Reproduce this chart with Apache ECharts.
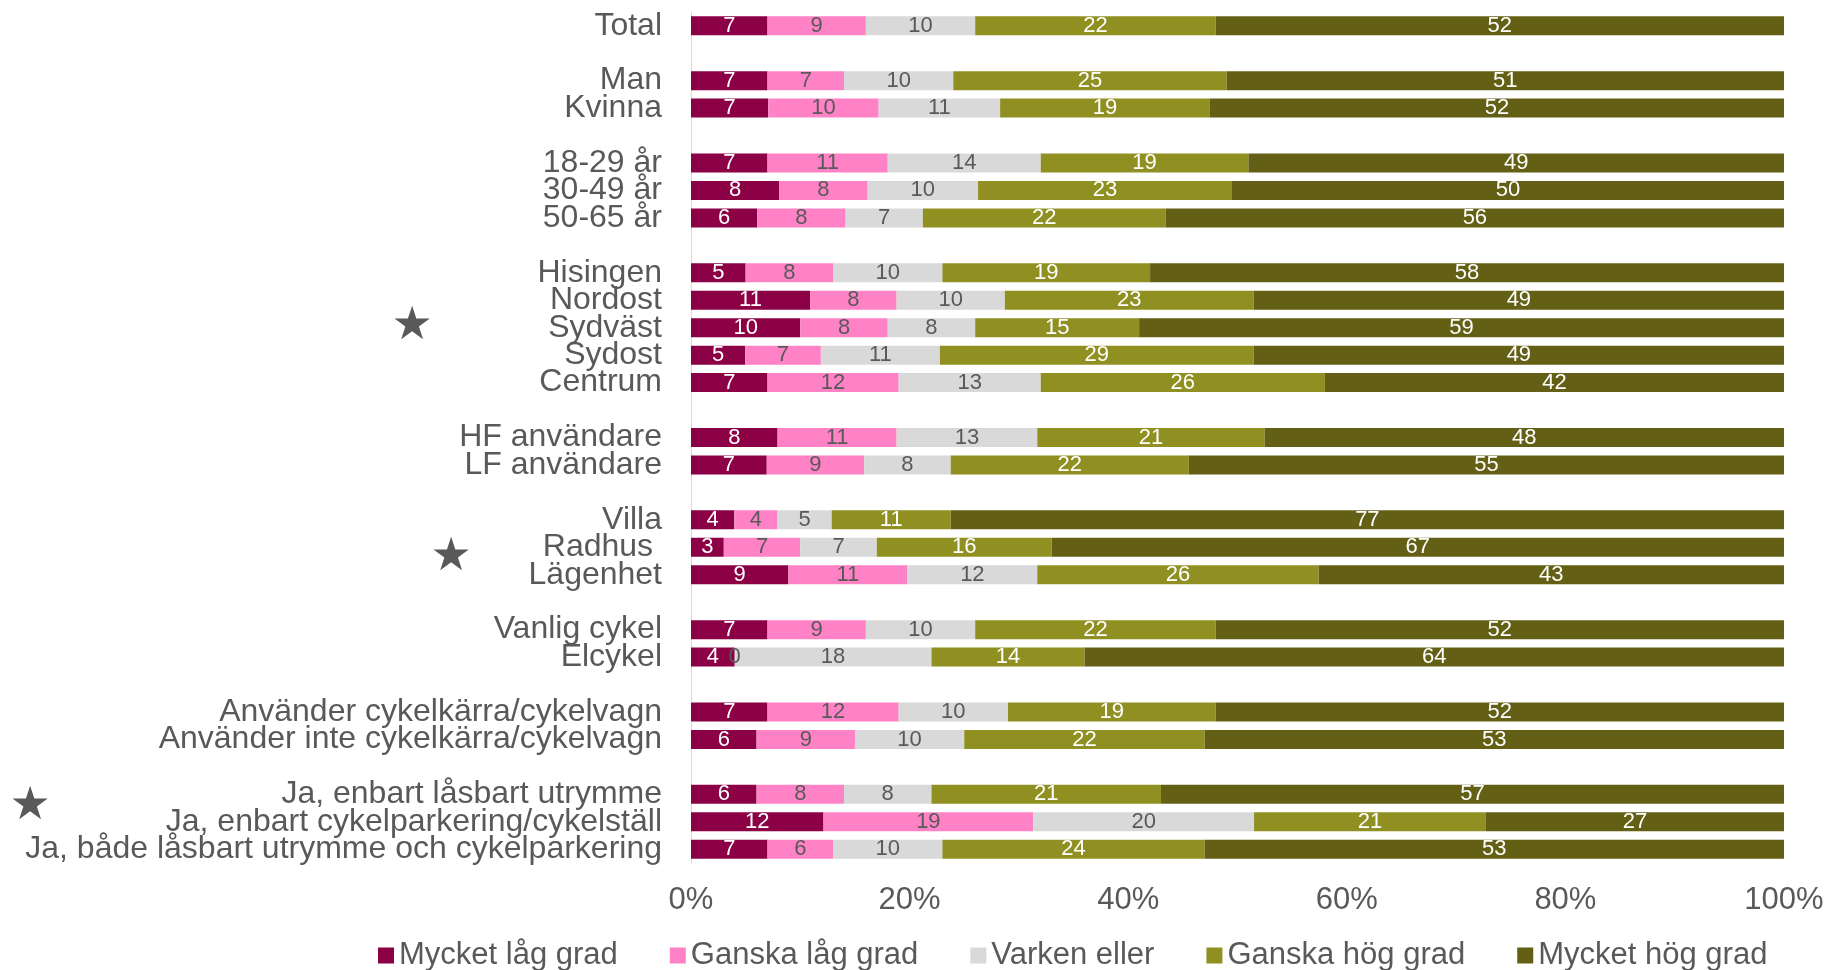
<!DOCTYPE html>
<html>
<head>
<meta charset="utf-8">
<script src="https://cdn.jsdelivr.net/npm/echarts@6/dist/echarts.min.js"></script>
<style>
  html, body { margin: 0; padding: 0; background: #fff; }
  #chart { width: 1828px; height: 970px; }
</style>
</head>
<body>
<div id="chart"></div>
<script>
// kategorier, tomma rader ('') skiljer grupperna åt
var categories = [
  'Total', '',
  'Man', 'Kvinna', '',
  '18-29 år', '30-49 år', '50-65 år', '',
  'Hisingen', 'Nordost', 'Sydväst', 'Sydost', 'Centrum', '',
  'HF användare', 'LF användare', '',
  'Villa', 'Radhus ', 'Lägenhet', '',
  'Vanlig cykel', 'Elcykel', '',
  'Använder cykelkärra/cykelvagn', 'Använder inte cykelkärra/cykelvagn', '',
  'Ja, enbart låsbart utrymme', 'Ja, enbart cykelparkering/cykelställ', 'Ja, både låsbart utrymme och cykelparkering'
];

var seriesNames = ['Mycket låg grad', 'Ganska låg grad', 'Varken eller', 'Ganska hög grad', 'Mycket hög grad'];
var seriesColors = ['#8C0046', '#FF82C6', '#D9D9D9', '#909022', '#636015'];
var labelColors = ['#FFFFFF', '#595959', '#595959', '#FFFFFF', '#FFFFFF'];

var mycketLag = [7, null, 7, 7, null, 7, 8, 6, null, 5, 11, 10, 5, 7, null, 8, 7, null, 4, 3, 9, null, 7, 4, null, 7, 6, null, 6, 12, 7];
var ganskaLag = [9, null, 7, 10, null, 11, 8, 8, null, 8, 8, 8, 7, 12, null, 11, 9, null, 4, 7, 11, null, 9, 0, null, 12, 9, null, 8, 19, 6];
var varkenEller = [10, null, 10, 11, null, 14, 10, 7, null, 10, 10, 8, 11, 13, null, 13, 8, null, 5, 7, 12, null, 10, 18, null, 10, 10, null, 8, 20, 10];
var ganskaHog = [22, null, 25, 19, null, 19, 23, 22, null, 19, 23, 15, 29, 26, null, 21, 22, null, 11, 16, 26, null, 22, 14, null, 19, 22, null, 21, 21, 24];
var mycketHog = [52, null, 51, 52, null, 49, 50, 56, null, 58, 49, 59, 49, 42, null, 48, 55, null, 77, 67, 43, null, 52, 64, null, 52, 53, null, 57, 27, 53];

var xTicks = [0, 20, 40, 60, 80, 100];

var allValues = [mycketLag, ganskaLag, varkenEller, ganskaHog, mycketHog];

// radsummor för 100 % staplar
var rowSums = categories.map(function (c, i) {
  var s = 0;
  allValues.forEach(function (arr) { if (arr[i] != null) s += arr[i]; });
  return s;
});

var FONT = '"Liberation Sans", Arial, sans-serif';
var TEXT = '#595959';

var series = allValues.map(function (arr, k) {
  return {
    name: seriesNames[k],
    type: 'bar',
    stack: 'total',
    barWidth: 19,
    itemStyle: { color: seriesColors[k] },
    label: {
      show: true,
      position: 'inside',
      color: labelColors[k],
      fontFamily: FONT,
      fontSize: 22,
      formatter: function (p) { return arr[p.dataIndex]; }
    },
    emphasis: { disabled: true },
    data: arr.map(function (v, i) {
      return v == null ? '-' : v / rowSums[i] * 100;
    })
  };
});

function star(x, y) {
  return {
    type: 'text', x: x, y: y,
    style: { text: '★', fill: TEXT, fontSize: 46, fontFamily: 'DejaVu Sans', align: 'center', verticalAlign: 'middle' }
  };
}

var chart = echarts.init(document.getElementById('chart'));
chart.setOption({
  animation: false,
  textStyle: { fontFamily: FONT },
  grid: { left: 691, right: 44, top: 12, bottom: 107 },
  legend: {
    data: seriesNames,
    left: 373,
    top: 935,
    icon: 'rect',
    itemWidth: 16,
    itemHeight: 16,
    itemGap: 52,
    textStyle: { color: TEXT, fontSize: 31, fontFamily: FONT }
  },
  xAxis: {
    type: 'value',
    min: xTicks[0],
    max: xTicks[xTicks.length - 1],
    interval: xTicks[1] - xTicks[0],
    axisLine: { show: false },
    axisTick: { show: false },
    splitLine: { show: false },
    axisLabel: {
      color: TEXT,
      fontSize: 31,
      fontFamily: FONT,
      margin: 22,
      formatter: '{value}%'
    }
  },
  yAxis: {
    type: 'category',
    inverse: true,
    data: categories,
    axisLine: { show: true, lineStyle: { color: '#D9D9D9', width: 1 } },
    axisTick: { show: false },
    axisLabel: {
      color: TEXT,
      fontSize: 32,
      fontFamily: FONT,
      margin: 29,
      interval: 0
    }
  },
  graphic: [star(412, 327), star(451, 558), star(30, 807)],
  series: series
});
</script>
</body>
</html>
